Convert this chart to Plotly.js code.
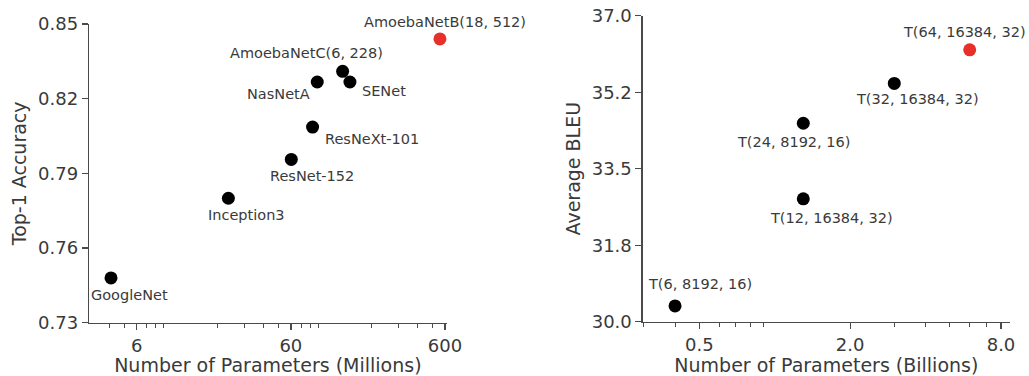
<!DOCTYPE html>
<html>
<head>
<meta charset="utf-8">
<script src="https://cdn.plot.ly/plotly-3.0.1.min.js"></script>
<style>
html,body{margin:0;padding:0;background:#fff;}
#chart{width:1029px;height:376px;}
</style>
</head>
<body>
<div id="chart"></div>
<script>
// ---- Left panel data (ImageNet) ----
const imgNames = ["GoogleNet", "Inception3", "ResNet-152", "ResNeXt-101", "NasNetA", "AmoebaNetC(6, 228)", "SENet", "AmoebaNetB(18, 512)"];
const imgParams = [4.09, 23.6, 60.4, 83, 89, 130, 145, 556];   // millions
const imgAcc = [0.748, 0.780, 0.7956, 0.8086, 0.8267, 0.831, 0.8267, 0.844];

// ---- Right panel data (Translation) ----
const mtNames = ["T(6, 8192, 16)", "T(12, 16384, 32)", "T(24, 8192, 16)", "T(32, 16384, 32)", "T(64, 16384, 32)"];
const mtParams = [0.40, 1.30, 1.30, 3.0, 6.0];   // billions
const mtBleu = [30.36, 32.81, 34.54, 35.45, 36.22];

// ---- Tick labels ----
const imgXTickVals = [6, 60, 600];
const imgXTickText = ["6", "60", "600"];
const imgYTickVals = [0.73, 0.76, 0.79, 0.82, 0.85];
const imgYTickText = ["0.73", "0.76", "0.79", "0.82", "0.85"];
const mtXTickVals = [0.5, 2.0, 8.0];
const mtXTickText = ["0.5", "2.0", "8.0"];
const mtYTickVals = [30.0, 31.75, 33.5, 35.25, 37.0];
const mtYTickText = ["30.0", "31.8", "33.5", "35.2", "37.0"];
const imgXMinor = [4,5,7,8,9,20,30,40,50,70,80,90,200,300,400,500];
const mtXMinor = [0.3,0.4,0.6,0.7,0.8,0.9,3,4,5,6,7];

// ---- Styling (label offsets in pixels from each point) ----
const imgLabelOffsets = [[-22,-17],[-22,-17],[-23,-17],[10,-12],[-72,-12],[-115,18],[10,-9],[-78,17]];
const mtLabelOffsets = [[-29,22],[-35,-19],[-68,-19],[-40,-16],[-69,18]];
const BLACK = "#000000", RED = "#e8302a";
const TXT = "#3a3a3a", AX = "#4a4a4a";
const FONT = "DejaVu Sans";

function colorsFor(n){ const c=[]; for(let i=0;i<n;i++) c.push(i===n-1?RED:BLACK); return c; }

const traces = [
  {x: imgParams, y: imgAcc, xaxis:"x", yaxis:"y", type:"scatter", mode:"markers",
   marker:{size:13, color: colorsFor(imgParams.length)}, hoverinfo:"skip", cliponaxis:false},
  {x: mtParams, y: mtBleu, xaxis:"x2", yaxis:"y2", type:"scatter", mode:"markers",
   marker:{size:13, color: colorsFor(mtParams.length)}, hoverinfo:"skip", cliponaxis:false}
];

const annotations = [];
imgNames.forEach((n,i)=>{
  annotations.push({x: Math.log10(imgParams[i]), y: imgAcc[i], xref:"x", yref:"y", text:n, showarrow:false,
    xanchor:"left", yanchor:"middle", xshift: imgLabelOffsets[i][0], yshift: imgLabelOffsets[i][1],
    font:{family:FONT, size:14.5, color:TXT}});
});
mtNames.forEach((n,i)=>{
  annotations.push({x: Math.log10(mtParams[i]), y: mtBleu[i], xref:"x2", yref:"y2", text:n, showarrow:false,
    xanchor:"left", yanchor:"middle", xshift: mtLabelOffsets[i][0], yshift: mtLabelOffsets[i][1],
    font:{family:FONT, size:14.5, color:TXT}});
});

function xAxis(domain, range, tv, tt, minor, title, anchor){
  return {domain: domain, anchor: anchor, type:"log", range: range, tickmode:"array", tickvals: tv, ticktext: tt,
    showline:true, linecolor:AX, linewidth:1.3, ticks:"outside", ticklen:6, tickwidth:1.3, tickcolor:AX,
    showgrid:false, zeroline:false, automargin:false,
    tickfont:{family:FONT, size:18, color:TXT},
    minor:{tickmode:"array", tickvals: minor, ticks:"outside", ticklen:3.5, tickwidth:1, tickcolor:AX, showgrid:false},
    title:{text:title, font:{family:FONT, size:19, color:TXT}, standoff:4}};
}
function yAxis(domain, range, tv, tt, title, anchor){
  return {domain: domain, anchor: anchor, range: range, tickmode:"array", tickvals: tv, ticktext: tt,
    showline:true, linecolor:AX, linewidth:1.3, ticks:"outside", ticklen:6, tickwidth:1.3, tickcolor:AX,
    showgrid:false, zeroline:false, automargin:false,
    tickfont:{family:FONT, size:18, color:TXT},
    title:{text:title, font:{family:FONT, size:19, color:TXT}, standoff:6}};
}

const W = 1029, H = 376;
const layout = {
  width: W, height: H,
  margin:{l:0, r:0, t:0, b:0},
  paper_bgcolor:"#ffffff", plot_bgcolor:"#ffffff",
  showlegend:false,
  xaxis: xAxis([89/W, 446.7/W], [0.469, 2.789], imgXTickVals, imgXTickText, imgXMinor, "Number of Parameters (Millions)", "y"),
  yaxis: yAxis([1-322.7/H, 1-24/H], [0.73, 0.85], imgYTickVals, imgYTickText, "Top-1 Accuracy", "x"),
  xaxis2: xAxis([642.7/W, 1010/W], [-0.527, 0.939], mtXTickVals, mtXTickText, mtXMinor, "Number of Parameters (Billions)", "y2"),
  yaxis2: yAxis([1-321.7/H, 1-15.7/H], [30, 37], mtYTickVals, mtYTickText, "Average BLEU", "x2"),
  annotations: annotations
};

Plotly.newPlot("chart", traces, layout, {staticPlot:true, displayModeBar:false});
</script>
</body>
</html>
